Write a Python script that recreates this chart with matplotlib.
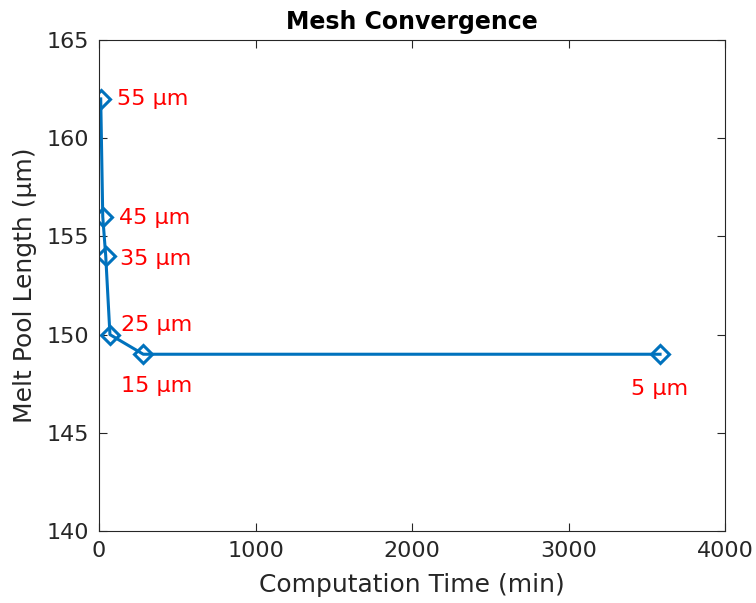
import matplotlib.pyplot as plt
import numpy as np

# mesh size study: run time vs. melt pool length
comp_time = [11, 24, 43, 70, 283, 3585]          # min
pool_length = [162, 156, 154, 150, 149, 149]     # um
mesh_labels = ["55 µm", "45 µm", "35 µm", "25 µm", "15 µm", "5 µm"]

# label offsets (points) from each marker
label_offsets = [(12, 0), (12, -1), (10, -2), (8, 7), (-16, -23), (-21, -25)]

dark = "#262626"
plt.rcParams["font.family"] = "DejaVu Sans"

fig = plt.figure(figsize=(7.56, 6.03), dpi=100)
ax = fig.add_axes([99 / 756, 1 - 531 / 603, 626 / 756, 491 / 603])

ax.plot(comp_time, pool_length, color="#0072BD", linewidth=2.2,
        marker="D", markersize=9, markerfacecolor="none",
        markeredgewidth=2.2)

for x, y, lab, off in zip(comp_time, pool_length, mesh_labels, label_offsets):
    ax.annotate(lab, (x, y), xytext=off, textcoords="offset points",
                color="red", fontsize=16, ha="left", va="center")

ax.set_xlim(0, 4000)
ax.set_ylim(140, 165)
ax.set_xticks(np.arange(0, 4001, 1000))
ax.set_yticks(np.arange(140, 166, 5))

ax.set_title("Mesh Convergence", fontsize=17, fontweight="bold", pad=8)
ax.set_xlabel("Computation Time (min)", fontsize=18, color=dark, labelpad=9)
ax.set_ylabel("Melt Pool Length (µm)", fontsize=18, color=dark, labelpad=7)

ax.tick_params(axis="both", direction="in", top=True, right=True,
               labelsize=16, colors=dark, length=6, width=0.8, pad=7)
for s in ax.spines.values():
    s.set_color(dark)
    s.set_linewidth(0.8)

fig.savefig("out.png", dpi=100)
